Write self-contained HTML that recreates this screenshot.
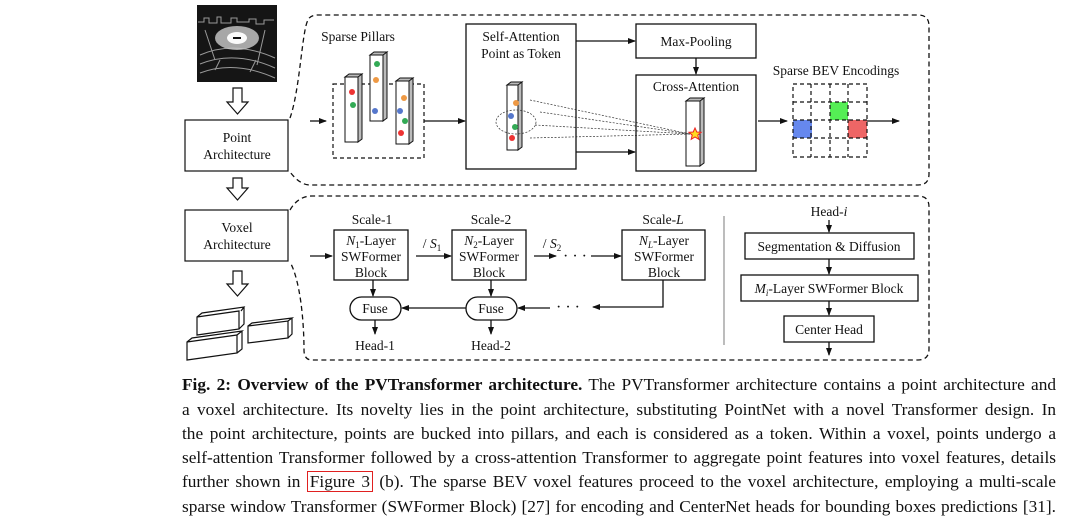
<!DOCTYPE html>
<html><head><meta charset="utf-8">
<style>
body{margin:0;background:#fff;width:1080px;height:526px;overflow:hidden;position:relative;font-family:"Liberation Serif",serif;}
.l{position:absolute;font-size:17.3px;line-height:20px;text-align:justify;text-align-last:justify;white-space:nowrap;color:#111;}
.fl{left:182px;width:874px}
.fig{border:1.5px solid #e02020;padding:0 2px;}
svg text{font-family:"Liberation Serif",serif;fill:#111;}
</style></head><body>
<svg width="1080" height="370" style="position:absolute;left:0;top:0" xmlns="http://www.w3.org/2000/svg">
<defs>
<marker id="a" markerWidth="8" markerHeight="6" refX="7" refY="3" orient="auto" markerUnits="userSpaceOnUse"><path d="M0,0 L8,3 L0,6 z" fill="#111"/></marker>
</defs>
<!-- lidar -->
<rect x="197" y="5" width="80" height="77" fill="#151515"/>
<g stroke="#bbb" stroke-width="1" fill="none" opacity="0.8">
<path d="M198,22 h6 v-4 h5 v5 h8 v-6 h4 v6 h10 v-5 h6 v4 h12 v-3 h7 v5 h8 v-4 h10"/>
<path d="M200,55 Q235,40 275,58 M200,64 Q235,50 275,68 M200,73 Q235,60 275,78"/>
<path d="M205,30 l10,30 M265,30 l-8,35 M215,70 l5,-10 M250,72 l6,-12"/>
</g>
<ellipse cx="237" cy="38" rx="22" ry="12" fill="#ccc" opacity="0.8"/>
<ellipse cx="237" cy="38" rx="10" ry="6" fill="#fafafa"/>
<rect x="233" y="37" width="8" height="2" fill="#111"/>
<!-- hollow arrows -->
<g fill="#fff" stroke="#111" stroke-width="1.2">
<path d="M233,88 h9 v14 h6 l-10.5,12 l-10.5,-12 h6 z"/>
<path d="M233,178 h9 v10 h6 l-10.5,12 l-10.5,-12 h6 z"/>
<path d="M233,271 h9 v13 h6 l-10.5,12 l-10.5,-12 h6 z"/>
</g>
<g fill="none" stroke="#111" stroke-width="1.2">
<rect x="185" y="120" width="103" height="51"/>
<rect x="185" y="210" width="103" height="51"/>
<!-- 3d boxes -->
<path d="M197,317 l42,-6 v18 l-42,6 z M197,317 l5,-4 l42,-6 l-3,4 M239,329 l5,-5 v-17"/>
<path d="M248,326 l40,-5 v17 l-40,5 z M248,326 l4,-3 l40,-5 l-4,3 M288,338 l4,-4 v-16"/>
<path d="M187,342 l50,-7 v18 l-50,7 z M187,342 l5,-4 l50,-7 l-5,4 M237,353 l5,-4 v-18"/>
</g>
<text x="237" y="142" font-size="13.5" text-anchor="middle">Point</text>
<text x="237" y="159" font-size="13.5" text-anchor="middle">Architecture</text>
<text x="237" y="232" font-size="13.5" text-anchor="middle">Voxel</text>
<text x="237" y="249" font-size="13.5" text-anchor="middle">Architecture</text>
<!-- dashed regions -->
<g fill="none" stroke="#111" stroke-width="1.3" stroke-dasharray="5,3.5">
<path d="M290,118 C300,90 302,30 308,20 Q310,15 318,15 H918 Q929,15 929,26 V174 Q929,185 918,185 H310 Q300,185 290,172"/>
<path d="M290,210 Q298,196 312,196 H918 Q929,196 929,207 V349 Q929,360 918,360 H312 Q304,360 304,350 C304,320 300,280 290,262"/>
</g>
<!-- top flow -->
<g stroke="#111" stroke-width="1.3" fill="none" marker-end="url(#a)">
<line x1="310" y1="121" x2="326" y2="121"/>
<line x1="424" y1="121" x2="465" y2="121"/>
<line x1="576" y1="41" x2="635" y2="41"/>
<line x1="576" y1="152" x2="635" y2="152"/>
<line x1="696" y1="58" x2="696" y2="74"/>
<line x1="758" y1="121" x2="787" y2="121"/>
<line x1="867" y1="121" x2="899" y2="121"/>
</g>
<text x="358" y="41" font-size="13.5" text-anchor="middle">Sparse Pillars</text>
<rect x="333" y="84" width="91" height="74" fill="none" stroke="#111" stroke-width="1.2" stroke-dasharray="4,3"/>
<g stroke="#111" stroke-width="1" fill="#fff">
<rect x="345" y="77" width="13" height="65"/><path d="M358,77 l4,-3 v65 l-4,3 z M345,77 l4,-3 h13 l-4,3z" fill="#bbb"/>
<rect x="370" y="55" width="13" height="66"/><path d="M383,55 l4,-3 v66 l-4,3 z M370,55 l4,-3 h13 l-4,3z" fill="#bbb"/>
<rect x="396" y="81" width="13" height="63"/><path d="M409,81 l4,-3 v63 l-4,3 z M396,81 l4,-3 h13 l-4,3z" fill="#bbb"/>
<rect x="507" y="85" width="11" height="65"/><path d="M518,85 l4,-3 v65 l-4,3 z M507,85 l4,-3 h11 l-4,3z" fill="#bbb"/>
<rect x="686" y="101" width="14" height="65"/><path d="M700,101 l4,-3 v65 l-4,3 z M686,101 l4,-3 h14 l-4,3z" fill="#bbb"/>
</g>
<g stroke="none">
<circle cx="352" cy="92" r="3" fill="#e33"/><circle cx="353" cy="105" r="3" fill="#3a5"/>
<circle cx="377" cy="64" r="3" fill="#3a5"/><circle cx="376" cy="80" r="3" fill="#e94"/><circle cx="375" cy="111" r="3" fill="#57c"/>
<circle cx="404" cy="98" r="3" fill="#e94"/><circle cx="400" cy="111" r="3" fill="#57c"/><circle cx="405" cy="121" r="3" fill="#3a5"/><circle cx="401" cy="133" r="3" fill="#e33"/>
<circle cx="516" cy="103" r="3" fill="#e94"/><circle cx="511" cy="116" r="3" fill="#57c"/><circle cx="515" cy="127" r="3" fill="#3a5"/><circle cx="512" cy="138" r="3" fill="#e33"/>
</g>
<g stroke="#333" stroke-width="0.7" fill="none" stroke-dasharray="2,1.5">
<line x1="530" y1="100" x2="690" y2="134"/><line x1="540" y1="112" x2="690" y2="134"/><line x1="535" y1="125" x2="690" y2="134"/><line x1="530" y1="138" x2="690" y2="134"/>
<ellipse cx="516" cy="122" rx="20" ry="12"/>
</g>
<path d="M695,128 l1.8,4 4.3,.3 -3.3,2.8 1,4.2 -3.8,-2.3 -3.8,2.3 1,-4.2 -3.3,-2.8 4.3,-.3z" fill="#fd2" stroke="#e22" stroke-width="1"/>
<g fill="none" stroke="#111" stroke-width="1.3">
<rect x="466" y="24" width="110" height="145"/>
<rect x="636" y="24" width="120" height="34"/>
<rect x="636" y="75" width="120" height="96"/>
</g>
<text x="521" y="41" font-size="13.5" text-anchor="middle">Self-Attention</text>
<text x="521" y="58" font-size="13.5" text-anchor="middle">Point as Token</text>
<text x="696" y="46" font-size="13.5" text-anchor="middle">Max-Pooling</text>
<text x="696" y="91" font-size="13.5" text-anchor="middle">Cross-Attention</text>
<text x="836" y="75" font-size="13.5" text-anchor="middle">Sparse BEV Encodings</text>
<rect x="830" y="102" width="18" height="18" fill="#5e5"/>
<rect x="793" y="120" width="19" height="18" fill="#68e"/>
<rect x="848" y="120" width="19" height="18" fill="#e66"/>
<g stroke="#111" stroke-width="1.2" stroke-dasharray="4,3" fill="none">
<rect x="793" y="84" width="74" height="73"/>
<line x1="793" y1="102" x2="867" y2="102"/><line x1="793" y1="120" x2="867" y2="120"/><line x1="793" y1="138" x2="867" y2="138"/>
<line x1="811" y1="84" x2="811" y2="157"/><line x1="830" y1="84" x2="830" y2="157"/><line x1="848" y1="84" x2="848" y2="157"/>
</g>
<!-- bottom flow -->
<g fill="none" stroke="#111" stroke-width="1.3">
<rect x="334" y="230" width="74" height="50"/>
<rect x="452" y="230" width="74" height="50"/>
<rect x="622" y="230" width="83" height="50"/>
<rect x="350" y="297" width="51" height="23" rx="11.5"/>
<rect x="466" y="297" width="51" height="23" rx="11.5"/>
<rect x="745" y="233" width="169" height="26"/>
<rect x="741" y="275" width="177" height="26"/>
<rect x="784" y="316" width="90" height="26"/>
</g>
<line x1="724" y1="216" x2="724" y2="345" stroke="#999" stroke-width="1.3"/>
<g stroke="#111" stroke-width="1.3" fill="none" marker-end="url(#a)">
<line x1="310" y1="256" x2="332" y2="256"/>
<line x1="416" y1="256" x2="451" y2="256"/>
<line x1="534" y1="256" x2="556" y2="256"/>
<line x1="591" y1="256" x2="621" y2="256"/>
<line x1="373" y1="280" x2="373" y2="296"/>
<line x1="491" y1="280" x2="491" y2="296"/>
<path d="M663,280 V307 H593"/>
<line x1="550" y1="308" x2="518" y2="308"/>
<line x1="466" y1="308" x2="402" y2="308"/>
<line x1="375" y1="320" x2="375" y2="334"/>
<line x1="491" y1="320" x2="491" y2="334"/>
<line x1="829" y1="220" x2="829" y2="232"/>
<line x1="829" y1="259" x2="829" y2="274"/>
<line x1="829" y1="301" x2="829" y2="315"/>
<line x1="829" y1="342" x2="829" y2="355"/>
</g>
<g font-size="13.5" text-anchor="middle">
<text x="372" y="224">Scale-1</text><text x="491" y="224">Scale-2</text><text x="663" y="224">Scale-<tspan font-style="italic">L</tspan></text>
<text x="371" y="245"><tspan font-style="italic">N</tspan><tspan font-size="9" dy="3">1</tspan><tspan dy="-3">-Layer</tspan></text>
<text x="371" y="261">SWFormer</text><text x="371" y="277">Block</text>
<text x="489" y="245"><tspan font-style="italic">N</tspan><tspan font-size="9" dy="3">2</tspan><tspan dy="-3">-Layer</tspan></text>
<text x="489" y="261">SWFormer</text><text x="489" y="277">Block</text>
<text x="664" y="245"><tspan font-style="italic">N</tspan><tspan font-size="9" dy="3" font-style="italic">L</tspan><tspan dy="-3">-Layer</tspan></text>
<text x="664" y="261">SWFormer</text><text x="664" y="277">Block</text>
<text x="432" y="248">/ <tspan font-style="italic">S</tspan><tspan font-size="9" dy="3">1</tspan></text>
<text x="552" y="248">/ <tspan font-style="italic">S</tspan><tspan font-size="9" dy="3">2</tspan></text>
<text x="375" y="313">Fuse</text><text x="491" y="313">Fuse</text>
<text x="375" y="350">Head-1</text><text x="491" y="350">Head-2</text>
<text x="829" y="216">Head-<tspan font-style="italic">i</tspan></text>
<text x="829" y="251">Segmentation &amp; Diffusion</text>
<text x="829" y="293"><tspan font-style="italic">M</tspan><tspan font-size="9" dy="3" font-style="italic">i</tspan><tspan dy="-3">-Layer SWFormer Block</tspan></text>
<text x="829" y="334">Center Head</text>
<text x="575" y="261" font-size="16">· · ·</text>
<text x="568" y="312" font-size="16">· · ·</text>
</g>
</svg>
<div class="l fl" style="top:375px"><b>Fig. 2:</b> <b>Overview of the PVTransformer architecture.</b> The PVTransformer architecture contains a point architecture and</div>
<div class="l fl" style="top:400px">a voxel architecture. Its novelty lies in the point architecture, substituting PointNet with a novel Transformer design. In</div>
<div class="l fl" style="top:424px">the point architecture, points are bucked into pillars, and each is considered as a token. Within a voxel, points undergo a</div>
<div class="l fl" style="top:448px">self-attention Transformer followed by a cross-attention Transformer to aggregate point features into voxel features, details</div>
<div class="l fl" style="top:472px">further shown in <span class="fig">Figure 3</span> (b). The sparse BEV voxel features proceed to the voxel architecture, employing a multi-scale</div>
<div class="l fl" style="top:497px">sparse window Transformer (SWFormer Block) [27] for encoding and CenterNet heads for bounding boxes predictions [31].</div>
</body></html>
